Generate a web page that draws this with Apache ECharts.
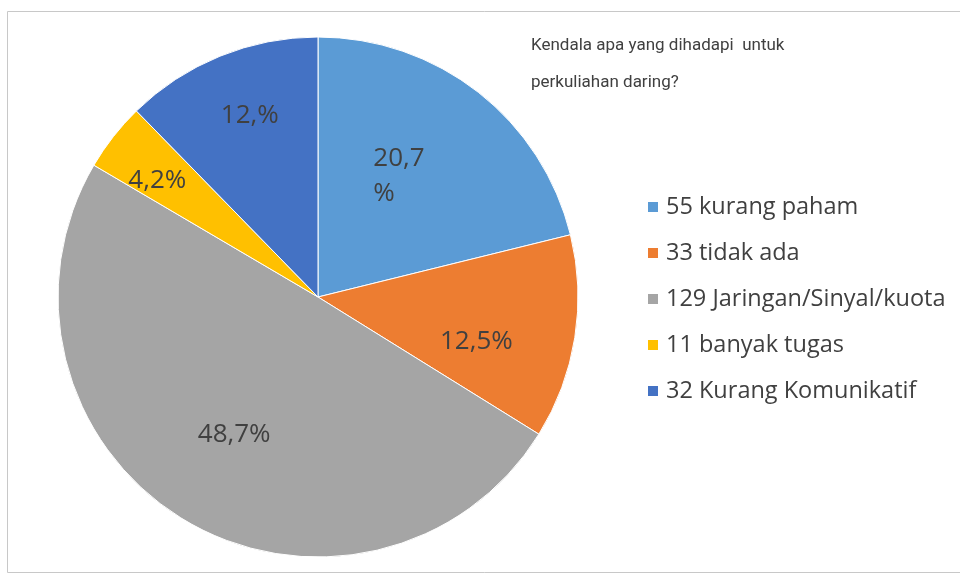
<!DOCTYPE html>
<html>
<head>
<meta charset="utf-8">
<script src="https://cdn.jsdelivr.net/npm/echarts@6/dist/echarts.min.js"></script>
<style>
  html, body { margin: 0; padding: 0; background: #fff; }
  #chart { width: 960px; height: 579px; }
</style>
</head>
<body>
<div id="chart"></div>
<script>
const categories = ['kurang paham', 'tidak ada', 'Jaringan/Sinyal/kuota', 'banyak tugas', 'Kurang Komunikatif']
const counts = [55, 33, 129, 11, 32]
const percentLabels = ['20,7\n%', '12,5%', '48,7%', '4,2%', '12,%']
const colors = ['#5B9BD5', '#ED7D31', '#A5A5A5', '#FFC000', '#4472C4']
// label nudges, Excel places them off the mid radius
const labelShift = [[-1, -16], [27, 24], [-15, 24], [-56, -34], [-18, -58]]

const chart = echarts.init(document.getElementById('chart'))

const option = {
  animation: false,
  backgroundColor: '#fff',
  color: colors,
  title: {
    text: 'Kendala apa yang dihadapi  untuk\nperkuliahan daring?',
    left: 526,
    top: 22,
    textStyle: {
      fontFamily: 'Roboto',
      fontWeight: 'normal',
      fontSize: 17,
      color: '#404040',
      lineHeight: 37
    }
  },
  graphic: [{
    type: 'rect',
    shape: { x: 7.5, y: 11.5, width: 960, height: 561 },
    style: { fill: 'none', stroke: '#c8c8c8', lineWidth: 1 },
    silent: true
  }],
  legend: {
    orient: 'vertical',
    left: 641,
    top: 190,
    itemWidth: 12,
    itemHeight: 12,
    itemGap: 22,
    icon: 'rect',
    formatter: name => counts[categories.indexOf(name)] + ' ' + name,
    textStyle: {
      fontFamily: 'Open Sans',
      fontSize: 23.5,
      color: '#404040',
      padding: [0, 0, 0, 2]
    }
  },
  series: [{
    type: 'pie',
    center: [318, 297],
    radius: [0, 260],
    startAngle: 90,
    clockwise: true,
    itemStyle: { borderColor: '#fff', borderWidth: 1 },
    label: {
      position: 'inside',
      fontFamily: 'Open Sans',
      fontSize: 26,
      color: '#404040',
      lineHeight: 35,
      // lines left-aligned like Excel's wrapped label
      formatter: p => percentLabels[p.dataIndex].split('\n').map(s => '{t|' + s + '}').join('\n'),
      rich: {
        t: {
          align: 'left',
          fontFamily: 'Open Sans',
          fontSize: 26,
          color: '#404040',
          lineHeight: 35
        }
      }
    },
    labelLine: { show: false },
    labelLayout: p => ({ dx: labelShift[p.dataIndex][0], dy: labelShift[p.dataIndex][1] }),
    emphasis: { disabled: true },
    data: categories.map((c, i) => ({ name: c, value: counts[i] }))
  }]
}

chart.setOption(option)
</script>
</body>
</html>
